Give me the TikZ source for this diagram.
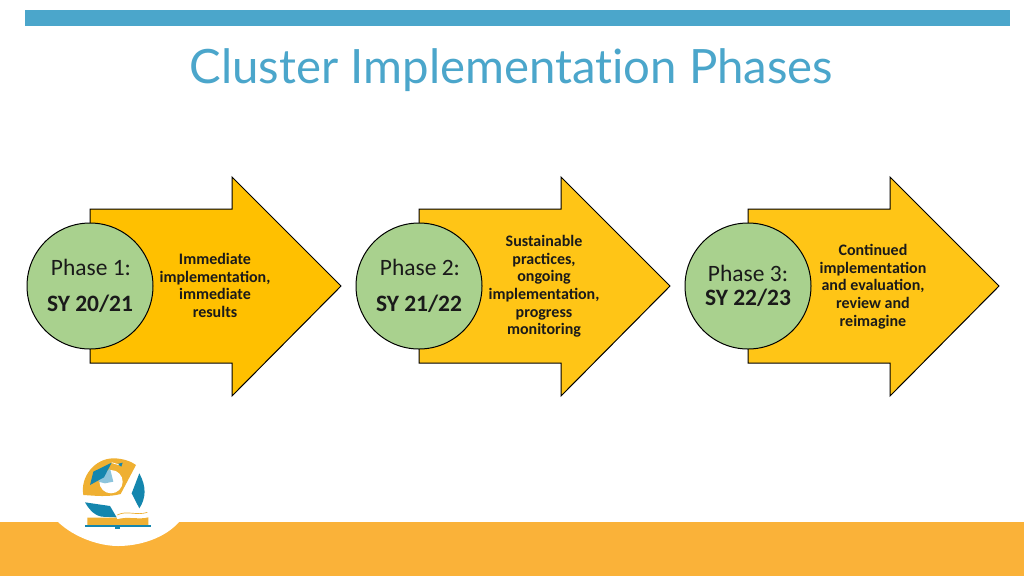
\documentclass[tikz,border=0pt]{standalone}
\usepackage{fontspec}
\setmainfont{Carlito}
\newfontfamily\titlefont[Ligatures=NoCommon]{Lato}
\definecolor{barblue}{HTML}{4BA6CB}
\definecolor{band}{HTML}{FAB239}
\definecolor{arrowA}{HTML}{FFC000}
\definecolor{arrowB}{HTML}{FFC516}
\definecolor{circ}{HTML}{A9D18E}
\definecolor{ink}{HTML}{1A1A1A}
\definecolor{logoGold}{HTML}{EFB032}
\definecolor{logoTeal}{HTML}{1486AE}
\definecolor{logoLight}{HTML}{8CC4DC}
\tikzset{
  arrowshape/.style={draw=black,line width=0.75pt,line join=miter},
  phasecircle/.style={circle,draw=black,line width=0.75pt,fill=circ,minimum size=94.5pt,inner sep=0pt},
  phaselabel/.style={font=\fontsize{17.6}{20}\selectfont,text=ink,inner sep=0pt},
  yearlabel/.style={font=\fontsize{17.6}{20}\selectfont\bfseries,text=ink,inner sep=0pt},
  desc/.style={font=\fontsize{12}{13.25}\selectfont\bfseries,text=ink,align=center,inner sep=0pt},
}
\begin{document}
\begin{tikzpicture}[x=0.75pt,y=-0.75pt]
\useasboundingbox (0,0) rectangle (1024,576);
\fill[white] (0,0) rectangle (1024,576);
\fill[barblue] (25,10) rectangle (1010,26);
\fill[band] (0,522) rectangle (1024,576);
\fill[white] (58,522) .. controls (75,538) and (100,546) .. (118,546) .. controls (140,546) and (165,538) .. (179,522) -- cycle;
\node[font=\fontsize{35.5}{40}\selectfont\titlefont,text=barblue,inner sep=0pt] (title) at (511.5,70.5) {Cluster Implementation Phases};
% arrows
\foreach \dx/\col in {0/arrowA,329/arrowB,658/arrowB}{
  \begin{scope}[shift={(\dx,0)}]
  \path[arrowshape,fill=\col] (90,209) -- (232,209) -- (232,177) -- (341,286) -- (232,396) -- (232,363) -- (90,363) -- cycle;
  \end{scope}
}
\node[phasecircle] (c1) at (90,286) {};
\node[phasecircle] (c2) at (419,286) {};
\node[phasecircle] (c3) at (748,286) {};
\node[phaselabel] (p1) at (91,267) {Phase 1:};
\node[yearlabel] (y1) at (90,304) {SY 20/21};
\node[phaselabel] (p2) at (420,267) {Phase 2:};
\node[yearlabel] (y2) at (419,304) {SY 21/22};
\node[phaselabel] (p3) at (748,273) {Phase 3:};
\node[yearlabel] (y3) at (748,298) {SY 22/23};
\node[desc] (d1) at (215,285.5) {Immediate\\implementation,\\immediate\\results};
\node[desc] (d2) at (544,286.5) {Sustainable\\practices,\\ongoing\\implementation,\\progress\\monitoring};
\node[desc] (d3) at (873,286.5) {Continued\\implementation\\and evaluation,\\review and\\reimagine};
% logo, in zoom coordinates
\begin{scope}[shift={(30,440)},x=0.25pt,y=-0.25pt]
  \fill[logoGold] (160,165) .. controls (150,110) and (195,55) .. (250,55) .. controls (280,55) and (305,65) .. (318,75) -- (272,162) .. controls (235,172) and (195,167) .. (160,165) -- cycle;
  \fill[white] (243,125) circle (35);
  \fill[logoLight] (205,125) -- (240,85) -- (250,125) -- (225,130) -- cycle;
  \fill[logoTeal] (180,135) -- (190,95) -- (245,68) -- (222,112) -- cycle;
  \fill[logoTeal] (262,72) -- (278,68) -- (274,80) -- cycle;
  \draw[white,line width=0.5pt] (245,68) -- (266,74);
  \fill[logoTeal] (328,100) .. controls (350,140) and (348,175) .. (328,205) -- (305,160) -- cycle;
  \fill[logoTeal] (165,187) -- (240,198) -- (260,232) -- (215,230) .. controls (190,225) and (175,205) .. (165,187) -- cycle;
  \fill[logoGold] (172,233) -- (260,233) -- (262,238) .. controls (290,228) and (330,240) .. (355,232) -- (355,255) -- (172,255) -- cycle;
  \draw[logoGold,line width=0.5pt] (262,225) .. controls (290,210) and (320,228) .. (352,217);
  \fill[logoTeal] (165,255) rectangle (362,262);
  \fill[logoTeal] (255,262) rectangle (270,267);
\end{scope}
\end{tikzpicture}
\end{document}
